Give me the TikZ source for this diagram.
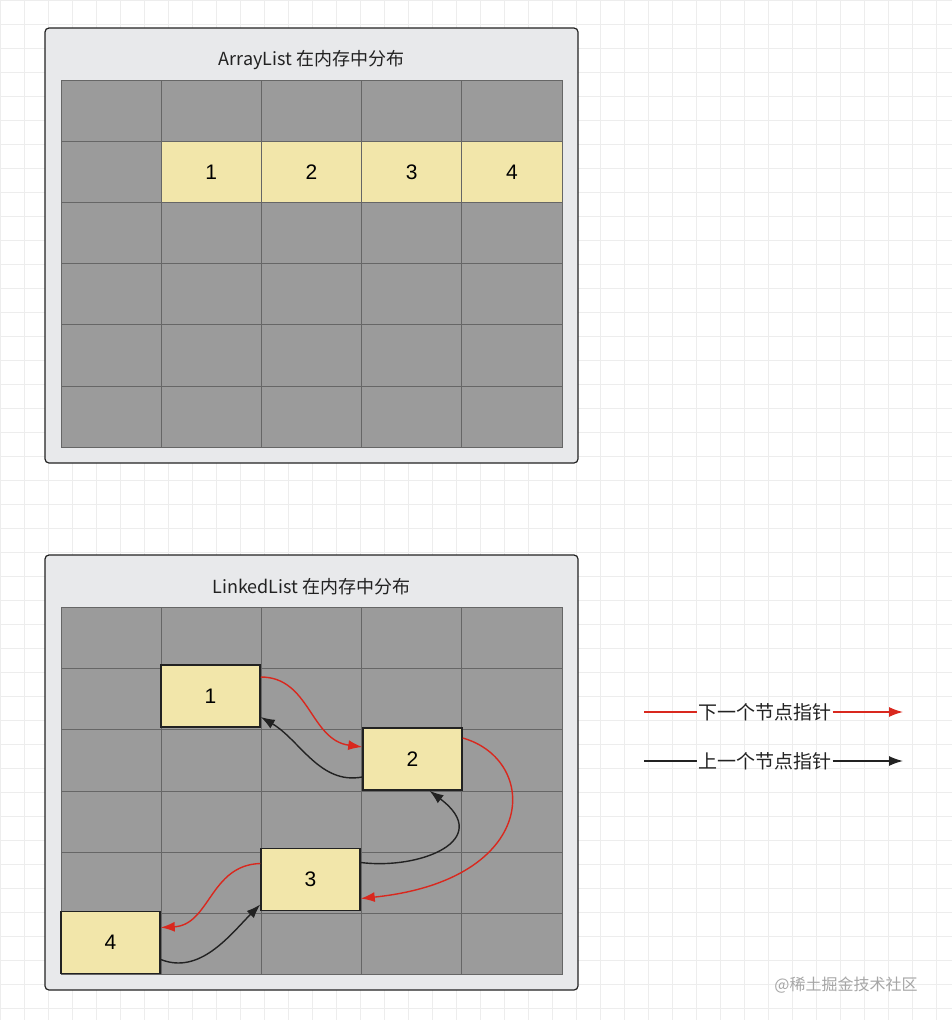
\documentclass[tikz,border=0pt]{standalone}
\usepackage{fontspec}
\setmainfont{Liberation Sans}
\newfontfamily\cjk{Noto Sans CJK SC}
\usetikzlibrary{arrows.meta}
\definecolor{cellg}{HTML}{9B9B9B}
\definecolor{cellline}{HTML}{666666}
\definecolor{yel}{HTML}{F2E6AA}
\definecolor{panel}{HTML}{E8E9EB}
\definecolor{redc}{HTML}{D9281E}
\definecolor{blk}{HTML}{222222}
\begin{document}
\begin{tikzpicture}[x=1pt,y=-1pt,
  panelbox/.style={draw=blk,line width=1.2pt,fill=panel,rounded corners=4pt},
  cell/.style={draw=cellline,line width=0.8pt,fill=cellg},
  ycell/.style={draw=cellline,line width=0.8pt,fill=yel},
  lnode/.style={draw=blk,line width=1.5pt,fill=yel,minimum width=99pt,minimum height=62pt,inner sep=0pt,font=\fontsize{21}{21}\selectfont},
  ttl/.style={font=\cjk\fontsize{18}{18}\selectfont,text=blk},
  rarr/.style={draw=redc,line width=1.4pt,-{Latex[length=14pt,width=10pt]}},
  barr/.style={draw=blk,line width=1.4pt,-{Latex[length=14pt,width=10pt]}},
  lg/.style={font=\cjk\fontsize{19}{19}\selectfont,text=blk,inner sep=1pt}]
\useasboundingbox (0,0) rectangle (952,1020);
\fill[white] (0,0) rectangle (952,1020);
\foreach \i in {0,...,42}{\draw[black!7,line width=0.6pt] (\i*24,0) -- (\i*24,1020);}
\foreach \i in {0,...,43}{\draw[black!7,line width=0.6pt] (0,\i*24) -- (952,\i*24);}
% top panel
\draw[panelbox] (45,28) rectangle (578,463);
\node[ttl] (t1) at (311.5,60) {ArrayList 在内存中分布};
\foreach \c in {0,...,4}{\foreach \r in {0,...,5}{
  \draw[cell] (61+\c*100.2,80+\r*61.2) rectangle ++(100.2,61.2);}}
\foreach \c/\t in {1/1,2/2,3/3,4/4}{
  \draw[ycell] (61+\c*100.2,141.2) rectangle ++(100.2,61.2);
  \node[font=\fontsize{21}{21}\selectfont] (a\t) at (61+\c*100.2+50.1,171.8) {\t};}
% bottom panel
\draw[panelbox] (45,555) rectangle (578,990);
\node[ttl] (t2) at (311.5,587) {LinkedList 在内存中分布};
\foreach \c in {0,...,4}{\foreach \r in {0,...,5}{
  \draw[cell] (61+\c*100.2,607+\r*61.3) rectangle ++(100.2,61.3);}}
\node[lnode] (n1) at (210.5,696) {1};
\node[lnode] (n2) at (412.5,759) {2};
\node[lnode] (n3) at (310.5,879.5) {3};
\node[lnode] (n4) at (110.5,942.5) {4};
\draw[rarr] ([yshift=19pt]n1.east) .. controls (310,677) and (310,740) .. ([yshift=12pt]n2.west);
\draw[barr] ([yshift=-18pt]n2.west) .. controls (320,785) and (300,740) .. ([yshift=-21pt]n1.east);
\draw[rarr] ([yshift=21pt]n2.east) .. controls (540,760) and (540,880) .. ([yshift=-19pt]n3.east);
\draw[barr] ([yshift=17pt]n3.east) .. controls (420,870) and (495,840) .. ([xshift=17pt]n2.south);
\draw[rarr] ([yshift=16pt]n3.west) .. controls (210,865) and (210,925) .. ([yshift=15pt]n4.east);
\draw[barr] ([yshift=-17pt]n4.east) .. controls (200,975) and (230,935) .. ([yshift=-25pt]n3.west);
% legend
\node[lg] (l1) at (765,712) {下一个节点指针};
\coordinate (l1a) at (644,712);
\coordinate (l1b) at (903,712);
\draw[redc,line width=1.4pt] (l1a) -- (l1.west);
\draw[rarr] (l1.east) -- (l1b);
\node[lg] (l2) at (765,761) {上一个节点指针};
\coordinate (l2a) at (644,761);
\coordinate (l2b) at (903,761);
\draw[blk,line width=1.4pt] (l2a) -- (l2.west);
\draw[barr] (l2.east) -- (l2b);
\node[font=\cjk\fontsize{16}{16}\selectfont,text=black!35] (wm) at (846,985) {@稀土掘金技术社区};
\end{tikzpicture}
\end{document}
